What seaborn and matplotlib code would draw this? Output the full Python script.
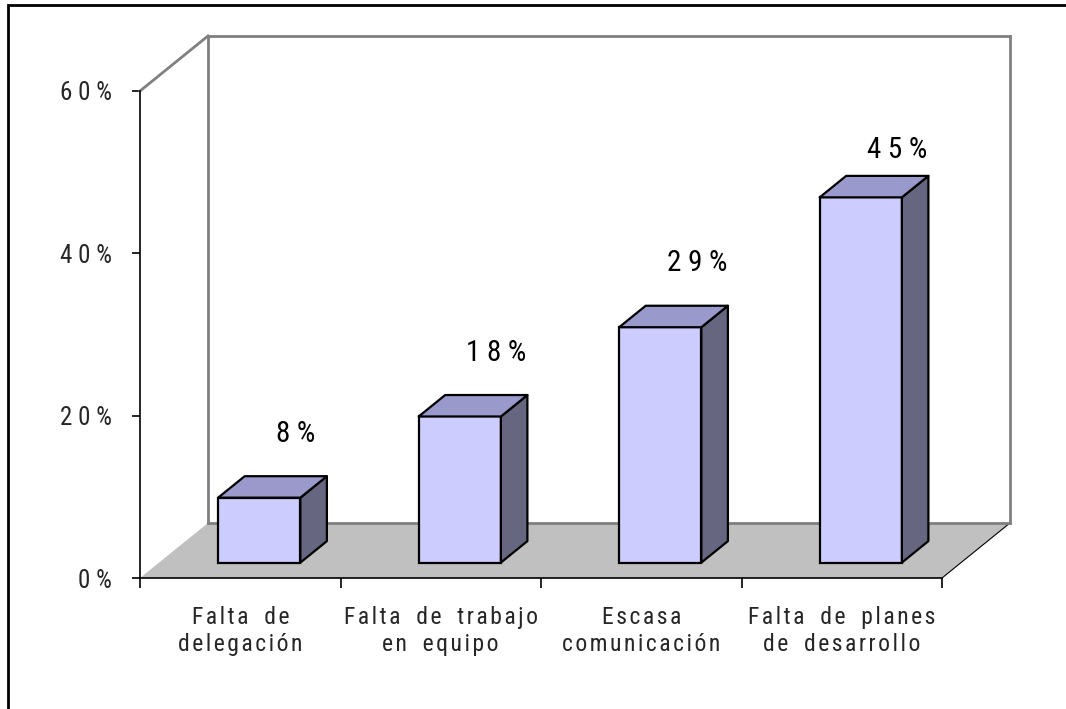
import os
import matplotlib
matplotlib.use("Agg")
import matplotlib.pyplot as plt
from matplotlib import font_manager as fm
from matplotlib.patches import Polygon, Rectangle
from matplotlib.lines import Line2D
import seaborn as sns
import pandas as pd

# ---- data ----
categories = ["Falta de\ndelegación", "Falta de trabajo\nen equipo",
              "Escasa\ncomunicación", "Falta de planes\nde desarrollo"]
values = [8, 18, 29, 45]          # percent
y_ticks = [0, 20, 40, 60]

# ---- styling ----
FRONT = "#CCCCFF"
TOP = "#9999CC"
SIDE = "#666680"
FLOOR = "#C0C0C0"
WALL_LINE = "#808080"

sns.set_theme(style="white")
plt.rcParams["font.family"] = ["Liberation Sans", "DejaVu Sans"]

# prefer a narrow sans face for the labels, if one is installed
NARROW_FILES = ["LiberationSansNarrow-Regular", "ARIALN.", "ArialNarrow",
                "RobotoCondensed-Regular", "NotoSans-Condensed.", "NotoSans-CondensedRegular",
                "OpenSans_Condensed-Regular", "DejaVuSansCondensed."]
font_files = [f.fname for f in fm.fontManager.ttflist]
narrow_path = None
for key in NARROW_FILES:
    hits = [p for p in font_files if key.lower() in os.path.basename(p).lower()]
    if hits:
        narrow_path = hits[0]
        break

if narrow_path:
    narrow_name = fm.FontProperties(fname=narrow_path).get_name()
    LABEL_FAMILY = [narrow_name, "DejaVu Sans"]
    SZ_VALUE, SZ_TICK, SZ_CAT = 21, 18, 17
else:
    LABEL_FAMILY = ["Liberation Sans", "DejaVu Sans"]
    SZ_VALUE, SZ_TICK, SZ_CAT = 17, 15, 14


def fp(size):
    return fm.FontProperties(family=LABEL_FAMILY, size=size)


HAIR = "\u200a"


def spaced(text, letter_sep=" ", word_sep="   "):
    """Letter-spaced text."""
    return "\n".join(word_sep.join(letter_sep.join(word) for word in line.split(" "))
                     for line in text.split("\n"))


W, H, DPI = 1066, 709, 100
fig = plt.figure(figsize=(W / DPI, H / DPI), dpi=DPI)
fig.patch.set_facecolor("white")

# front plane of the 3-D box
left, right, bottom, top = 140, 942, 578, 91
ax = fig.add_axes([left / W, (H - bottom) / H, (right - left) / W, (bottom - top) / H])
ax.set_facecolor("none")

df = pd.DataFrame({"cat": categories, "val": values})
sns.barplot(data=df, x="cat", y="val", width=0.41, color=FRONT,
            saturation=1, ax=ax, zorder=5)

ax.set_xlim(-0.5, 3.5)
ax.set_ylim(0, 60)

# depth geometry in data units
DEPTH_X, DEPTH_Y = 0.339, 6.78        # full depth of the box
BAR_OFF = 0.28                         # bar front plane, fraction of depth
BAR_DEPTH = 0.39                       # bar thickness, fraction of depth
dx0, dy0 = DEPTH_X * BAR_OFF, DEPTH_Y * BAR_OFF
ddx, ddy = DEPTH_X * BAR_DEPTH, DEPTH_Y * BAR_DEPTH
LABEL_GAP = 3.5                        # value label distance above the bar top
LABEL_CEIL = 51.0                      # labels are kept below this height

x_lo, x_hi = ax.get_xlim()

# floor
floor = Polygon([(x_lo, 0), (x_hi, 0), (x_hi + DEPTH_X, DEPTH_Y), (x_lo + DEPTH_X, DEPTH_Y)],
                closed=True, facecolor=FLOOR, edgecolor="none", zorder=1, clip_on=False)
ax.add_patch(floor)
ax.add_line(Line2D([x_hi, x_hi + DEPTH_X], [0, DEPTH_Y], color="black", lw=0.8,
                   zorder=2, clip_on=False))

# walls (left side wall and back wall outlines)
wall_kw = dict(color=WALL_LINE, lw=2, zorder=2, clip_on=False, solid_capstyle="projecting")
ax.add_line(Line2D([x_lo, x_lo + DEPTH_X], [60, 60 + DEPTH_Y], **wall_kw))
ax.add_line(Line2D([x_lo + DEPTH_X, x_lo + DEPTH_X], [DEPTH_Y, 60 + DEPTH_Y], **wall_kw))
ax.add_line(Line2D([x_lo + DEPTH_X, x_hi + DEPTH_X], [60 + DEPTH_Y, 60 + DEPTH_Y], **wall_kw))
ax.add_line(Line2D([x_hi + DEPTH_X, x_hi + DEPTH_X], [DEPTH_Y, 60 + DEPTH_Y], **wall_kw))
ax.add_line(Line2D([x_lo + DEPTH_X, x_hi + DEPTH_X], [DEPTH_Y, DEPTH_Y], **wall_kw))

# 3-D bars: move the front faces into the box and add top / side faces
for patch, v in zip(ax.patches[:len(values)], values):
    x0, w, h = patch.get_x() + dx0, patch.get_width(), patch.get_height()
    patch.set_x(x0)
    patch.set_y(dy0)
    patch.set_edgecolor("black")
    patch.set_linewidth(1.6)
    patch.set_zorder(6)
    y1 = dy0 + h
    top_face = Polygon([(x0, y1), (x0 + w, y1), (x0 + w + ddx, y1 + ddy), (x0 + ddx, y1 + ddy)],
                       closed=True, facecolor=TOP, edgecolor="black", lw=1.6,
                       joinstyle="round", zorder=6, clip_on=False)
    side_face = Polygon([(x0 + w, dy0), (x0 + w + ddx, dy0 + ddy),
                         (x0 + w + ddx, y1 + ddy), (x0 + w, y1)],
                        closed=True, facecolor=SIDE, edgecolor="black", lw=1.6,
                        joinstyle="round", zorder=6, clip_on=False)
    ax.add_patch(side_face)
    ax.add_patch(top_face)
    label_y = min(y1 + ddy + LABEL_GAP, LABEL_CEIL)
    ax.text(x0 + w / 2 + ddx + 0.05, label_y, spaced(f"{v}%"),
            ha="center", va="bottom", fontproperties=fp(SZ_VALUE), color="black", zorder=7)

# axes, ticks, labels
for s in ["top", "right"]:
    ax.spines[s].set_visible(False)
for s in ["left", "bottom"]:
    ax.spines[s].set_color("black")
    ax.spines[s].set_linewidth(1.2)
    ax.spines[s].set_zorder(3)

ax.set_yticks(y_ticks)
ax.set_yticklabels([spaced(f"{t}%") for t in y_ticks], fontproperties=fp(SZ_TICK))
ax.set_xticks([i for i in range(len(categories))])
ax.set_xticklabels([spaced(c, letter_sep=HAIR, word_sep=HAIR + "  " + HAIR) for c in categories],
                   fontproperties=fp(SZ_CAT), linespacing=1.25)
ax.set_xticks([i - 0.5 for i in range(len(categories) + 1)], minor=True)
ax.tick_params(axis="y", which="major", direction="out", length=6, width=1.2,
               color="black", pad=14, left=True)
ax.tick_params(axis="x", which="major", length=0, pad=20)
ax.tick_params(axis="x", which="minor", direction="out", length=7, width=1.2,
               color="black", bottom=True)
ax.set_xlabel("")
ax.set_ylabel("")
ax.grid(False)

# outer frame of the chart area
fig.patches.append(Rectangle((8 / W, -0.05), 1.2, (H - 5) / H + 0.05,
                             transform=fig.transFigure, fill=False,
                             edgecolor="black", lw=2, zorder=10))

fig.savefig("out.png", dpi=DPI)
